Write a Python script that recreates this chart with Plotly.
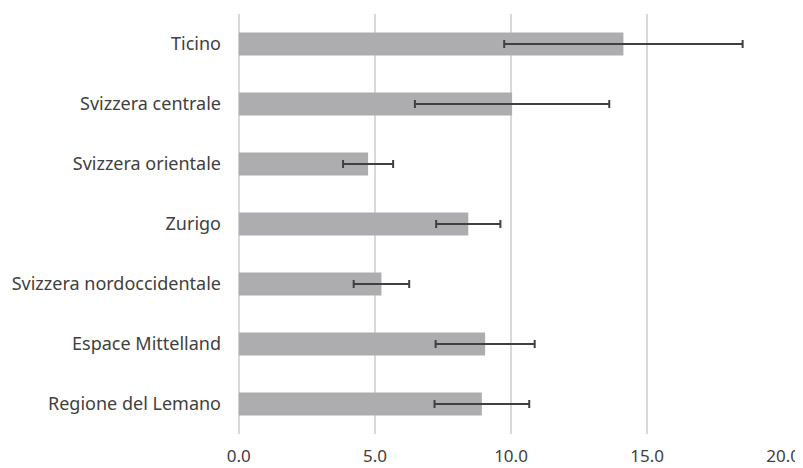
import plotly.graph_objects as go

regions = ["Ticino", "Svizzera centrale", "Svizzera orientale", "Zurigo",
           "Svizzera nordoccidentale", "Espace Mittelland", "Regione del Lemano"]
values = [14.13, 10.04, 4.75, 8.43, 5.24, 9.05, 8.93]
errors = [4.38, 3.57, 0.92, 1.18, 1.02, 1.82, 1.74]
x_ticks = [0, 5, 10, 15, 20]
x_tick_labels = ["0.0", "5.0", "10.0", "15.0", "20.0"]

fig = go.Figure(go.Bar(
    x=values, y=regions, orientation="h",
    marker=dict(color="#adadb0", line=dict(width=0)),
    error_x=dict(type="data", array=errors, visible=True,
                 color="#404040", thickness=2, width=4),
))

font = dict(family="Noto Sans, Open Sans, sans-serif", size=18, color="#404040")
xfont = dict(family="Noto Sans, Open Sans, sans-serif", size=17, color="#404040")
# the page body adds an 8px offset, so the figure is sized 795x460
fig.update_layout(
    width=795, height=460,
    margin=dict(l=230, r=19, t=6, b=34, autoexpand=False),
    paper_bgcolor="white", plot_bgcolor="white",
    bargap=0.62, showlegend=False, font=font,
    xaxis=dict(range=[-0.03, 20.03], tickvals=x_ticks, ticktext=x_tick_labels,
               showgrid=True, gridcolor="#d9d9d9", gridwidth=2,
               zeroline=True, zerolinecolor="#d9d9d9", zerolinewidth=2,
               showline=False, ticks="",
               ticklabelstandoff=10, tickfont=xfont, fixedrange=True,
               automargin=False),
    yaxis=dict(autorange="reversed", showgrid=False, zeroline=False,
               showline=False, ticks="", ticklabelstandoff=16,
               tickfont=font, fixedrange=True, automargin=False),
)

fig.write_html("out.html")
